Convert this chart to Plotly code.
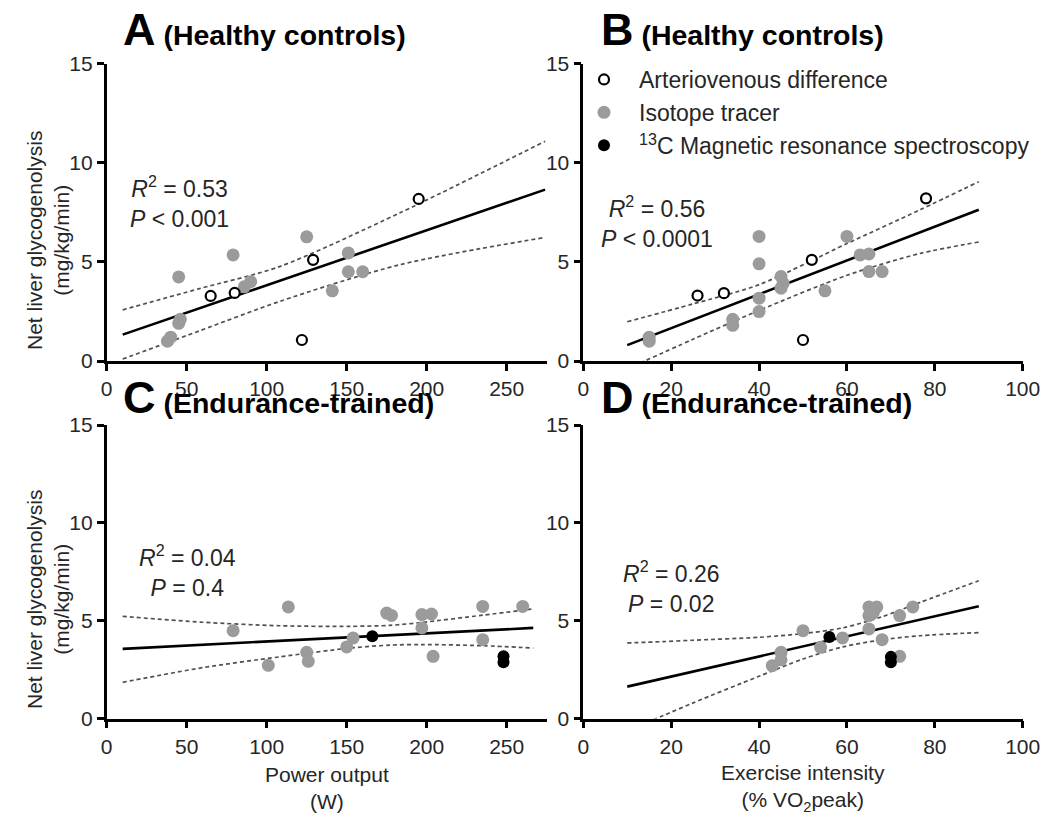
import plotly.graph_objects as go

W, H = 1044, 820

# ---------------- data ----------------
# Panel A: Healthy controls, power output (W)
A_av_x = [65, 80, 122, 129, 195]
A_av_y = [3.28, 3.43, 1.06, 5.1, 8.17]
A_iso_x = [38, 40, 45, 46, 45, 79, 86, 90, 125, 141, 151, 151, 160]
A_iso_y = [1.0, 1.2, 1.9, 2.1, 4.24, 5.35, 3.74, 4.0, 6.26, 3.54, 5.45, 4.5, 4.5]
A_fit_x = [10, 274]
A_fit_y = [1.33, 8.64]
A_ci_x = [10, 58, 108, 183, 274]
A_ci_hi = [2.58, 3.65, 4.76, 7.46, 11.08]
A_ci_lo = [0.1, 1.52, 3.0, 4.85, 6.23]

# Panel B: Healthy controls, exercise intensity (% VO2peak)
B_av_x = [26, 32, 50, 52, 78]
B_av_y = [3.3, 3.42, 1.06, 5.1, 8.2]
B_iso_x = [15, 15, 34, 34, 40, 40, 40, 40, 45, 45.5, 45, 55, 60, 63, 65, 65, 68]
B_iso_y = [1.0, 1.2, 1.8, 2.1, 6.28, 4.9, 3.17, 2.49, 4.26, 3.92, 3.67, 3.54, 6.28, 5.35, 5.4, 4.51, 4.51]
B_fit_x = [10, 90]
B_fit_y = [0.8, 7.63]
B_ci_x = [10, 25, 40, 60, 76.6, 90]
B_ci_hi = [1.98, 2.88, 3.85, 5.92, 7.62, 9.04]
B_ci_lo = [-0.4, 1.1, 2.55, 4.32, 5.42, 6.0]

# Panel C: Endurance-trained, power output (W)
C_iso_x = [79, 101, 113.5, 125, 126, 150, 154, 175, 178, 197, 203, 197, 204, 235, 235, 260]
C_iso_y = [4.49, 2.72, 5.7, 3.38, 2.92, 3.66, 4.12, 5.39, 5.27, 5.31, 5.34, 4.63, 3.18, 5.73, 4.03, 5.73]
C_mrs_x = [166, 248, 248]
C_mrs_y = [4.2, 3.18, 2.88]
C_fit_x = [10, 266.6]
C_fit_y = [3.56, 4.63]
C_ci_x = [10, 60, 108, 152, 177, 197, 235, 266.6]
C_ci_hi = [5.22, 4.92, 4.74, 4.71, 4.76, 4.91, 5.28, 5.6]
C_ci_lo = [1.85, 2.6, 3.15, 3.6, 3.75, 3.78, 3.72, 3.6]

# Panel D: Endurance-trained, exercise intensity (% VO2peak)
D_iso_x = [43, 45, 45, 50, 54, 59, 65, 66.8, 65, 66, 65, 68, 72, 75, 72]
D_iso_y = [2.7, 3.38, 3.0, 4.49, 3.64, 4.12, 5.7, 5.7, 5.26, 5.4, 4.58, 4.03, 5.26, 5.7, 3.18]
D_mrs_x = [56, 70, 70]
D_mrs_y = [4.17, 3.15, 2.87]
D_fit_x = [10, 90]
D_fit_y = [1.63, 5.74]
D_ci_x = [10, 18.2, 25, 40, 50, 59, 68, 76.6, 90]
D_ci_hi = [3.86, 3.93, 4.0, 4.15, 4.34, 4.63, 5.2, 5.93, 7.04]
D_ci_lo = [-0.6, 0.15, 0.8, 2.16, 3.04, 3.66, 4.02, 4.23, 4.39]

stats = {
    "A": "<i>R</i><sup>2</sup> = 0.53<br><i>P</i> &lt; 0.001",
    "B": "<i>R</i><sup>2</sup> = 0.56<br><i>P</i> &lt; 0.0001",
    "C": "<i>R</i><sup>2</sup> = 0.04<br><i>P</i> = 0.4",
    "D": "<i>R</i><sup>2</sup> = 0.26<br><i>P</i> = 0.02",
}
stat_pos = {"A": (45.8, 8.0), "B": (16.8, 7.0), "C": (50.2, 7.55), "D": (20.1, 6.7)}
titles = {"A": "Healthy controls", "B": "Healthy controls",
          "C": "Endurance-trained", "D": "Endurance-trained"}

GRAY = "#9b9b9b"
FONT = "Liberation Sans, Arial, sans-serif"
TXT = "#262626"

fig = go.Figure()

panels = [
    ("A", "x", "y", A_fit_x, A_fit_y, A_ci_x, A_ci_hi, A_ci_lo),
    ("B", "x2", "y2", B_fit_x, B_fit_y, B_ci_x, B_ci_hi, B_ci_lo),
    ("C", "x3", "y3", C_fit_x, C_fit_y, C_ci_x, C_ci_hi, C_ci_lo),
    ("D", "x4", "y4", D_fit_x, D_fit_y, D_ci_x, D_ci_hi, D_ci_lo),
]
for name, xa, ya, fx, fy, cx, chi, clo in panels:
    for band in (chi, clo):
        fig.add_trace(go.Scatter(x=cx, y=band, xaxis=xa, yaxis=ya, mode="lines",
                                 line=dict(color="#505050", width=1.7, dash="4px,3px",
                                           shape="spline", smoothing=0.8),
                                 showlegend=False, hoverinfo="skip"))
    fig.add_trace(go.Scatter(x=fx, y=fy, xaxis=xa, yaxis=ya, mode="lines",
                             line=dict(color="black", width=2.6), showlegend=False,
                             hoverinfo="skip"))

iso_marker = dict(color=GRAY, size=13, line=dict(width=0))
av_marker = dict(color="white", size=10, symbol="circle", line=dict(color="black", width=2.2))
mrs_marker = dict(color="black", size=12, line=dict(width=0))

fig.add_trace(go.Scatter(x=A_iso_x, y=A_iso_y, xaxis="x", yaxis="y", mode="markers",
                         marker=iso_marker, showlegend=False))
fig.add_trace(go.Scatter(x=A_av_x, y=A_av_y, xaxis="x", yaxis="y", mode="markers",
                         marker=av_marker, showlegend=False))
fig.add_trace(go.Scatter(x=B_av_x, y=B_av_y, xaxis="x2", yaxis="y2", mode="markers",
                         marker=av_marker, name="Arteriovenous difference", legendrank=1))
fig.add_trace(go.Scatter(x=B_iso_x, y=B_iso_y, xaxis="x2", yaxis="y2", mode="markers",
                         marker=iso_marker, name="Isotope tracer", legendrank=2))
fig.add_trace(go.Scatter(x=C_iso_x, y=C_iso_y, xaxis="x3", yaxis="y3", mode="markers",
                         marker=iso_marker, showlegend=False))
fig.add_trace(go.Scatter(x=C_mrs_x, y=C_mrs_y, xaxis="x3", yaxis="y3", mode="markers",
                         marker=mrs_marker, showlegend=False))
fig.add_trace(go.Scatter(x=D_iso_x, y=D_iso_y, xaxis="x4", yaxis="y4", mode="markers",
                         marker=iso_marker, showlegend=False))
fig.add_trace(go.Scatter(x=D_mrs_x, y=D_mrs_y, xaxis="x4", yaxis="y4", mode="markers",
                         marker=mrs_marker, name="<sup>13</sup>C Magnetic resonance spectroscopy",
                         legendrank=3))


def px_x(p):
    return p / W


def px_y(p):
    return 1 - p / H


dom_left = [px_x(106.7), px_x(546.7)]
dom_right = [px_x(583.3), px_x(1022.7)]
row1 = [px_y(361), px_y(63.5)]
row2 = [px_y(718.5), px_y(425)]


def xaxis(dom, rng, ticks, anchor):
    return dict(domain=dom, range=rng, tickvals=ticks, anchor=anchor,
                showline=True, linecolor="black", linewidth=2.6, ticks="outside",
                ticklen=7, tickwidth=2.6, tickcolor="black", showgrid=False, zeroline=False,
                tickfont=dict(size=21, color=TXT, family=FONT), fixedrange=True,
                automargin=False)


def yaxis(dom, anchor):
    return dict(domain=dom, range=[0, 15], tickvals=[0, 5, 10, 15], anchor=anchor,
                showline=True, linecolor="black", linewidth=2.6, ticks="outside",
                ticklen=7, tickwidth=2.6, tickcolor="black", showgrid=False, zeroline=False,
                tickfont=dict(size=21, color=TXT, family=FONT), fixedrange=True,
                automargin=False)


fig.update_layout(
    width=W, height=H, margin=dict(l=0, r=0, t=0, b=0, autoexpand=False),
    paper_bgcolor="white", plot_bgcolor="white",
    font=dict(family=FONT, color=TXT),
    xaxis=xaxis(dom_left, [0, 275], [0, 50, 100, 150, 200, 250], "y"),
    yaxis=yaxis(row1, "x"),
    xaxis2=xaxis(dom_right, [0, 100], [0, 20, 40, 60, 80, 100], "y2"),
    yaxis2=yaxis(row1, "x2"),
    xaxis3=xaxis(dom_left, [0, 275], [0, 50, 100, 150, 200, 250], "y3"),
    yaxis3=yaxis(row2, "x3"),
    xaxis4=xaxis(dom_right, [0, 100], [0, 20, 40, 60, 80, 100], "y4"),
    yaxis4=yaxis(row2, "x4"),
    showlegend=True,
    legend=dict(x=px_x(569), y=px_y(58), xanchor="left", yanchor="top",
                bgcolor="rgba(0,0,0,0)", font=dict(size=23, color=TXT, family=FONT),
                itemwidth=60, tracegroupgap=0),
)

ann = []
axref = {"A": ("x", "y"), "B": ("x2", "y2"), "C": ("x3", "y3"), "D": ("x4", "y4")}
for k in "ABCD":
    xr, yr = axref[k]
    sx, sy = stat_pos[k]
    ann.append(dict(x=sx, y=sy, xref=xr, yref=yr, text=stats[k], showarrow=False,
                    xanchor="center", yanchor="middle", align="center",
                    font=dict(size=23, color=TXT, family=FONT)))
title_pos = {"A": (121, 29), "B": (599, 29), "C": (121, 397), "D": (599, 397)}
for k in "ABCD":
    tx, ty = title_pos[k]
    ann.append(dict(x=px_x(tx), y=px_y(ty), xref="paper", yref="paper", showarrow=False,
                    xanchor="left", yanchor="middle",
                    text=f"<b><span style='font-size:45px'>{k}</span> ({titles[k]})</b>",
                    font=dict(size=28.5, color="black", family=FONT)))
for cy in (241, 600):
    ann.append(dict(x=px_x(48), y=px_y(cy), xref="paper", yref="paper", showarrow=False,
                    textangle=-90, xanchor="center", yanchor="middle", align="center",
                    text="Net liver glycogenolysis<br>(mg/kg/min)",
                    font=dict(size=21, color=TXT, family=FONT)))
ann.append(dict(x=px_x(327), y=px_y(788), xref="paper", yref="paper", showarrow=False,
                xanchor="center", yanchor="middle", align="center",
                text="Power output<br>(W)", font=dict(size=21, color=TXT, family=FONT)))
ann.append(dict(x=px_x(803), y=px_y(788), xref="paper", yref="paper", showarrow=False,
                xanchor="center", yanchor="middle", align="center",
                text="Exercise intensity<br>(% VO<sub>2</sub>peak)",
                font=dict(size=21, color=TXT, family=FONT)))
fig.update_layout(annotations=ann)

fig.write_html("out.html", config={"displayModeBar": False},
               post_script="document.body.style.margin='0';")
